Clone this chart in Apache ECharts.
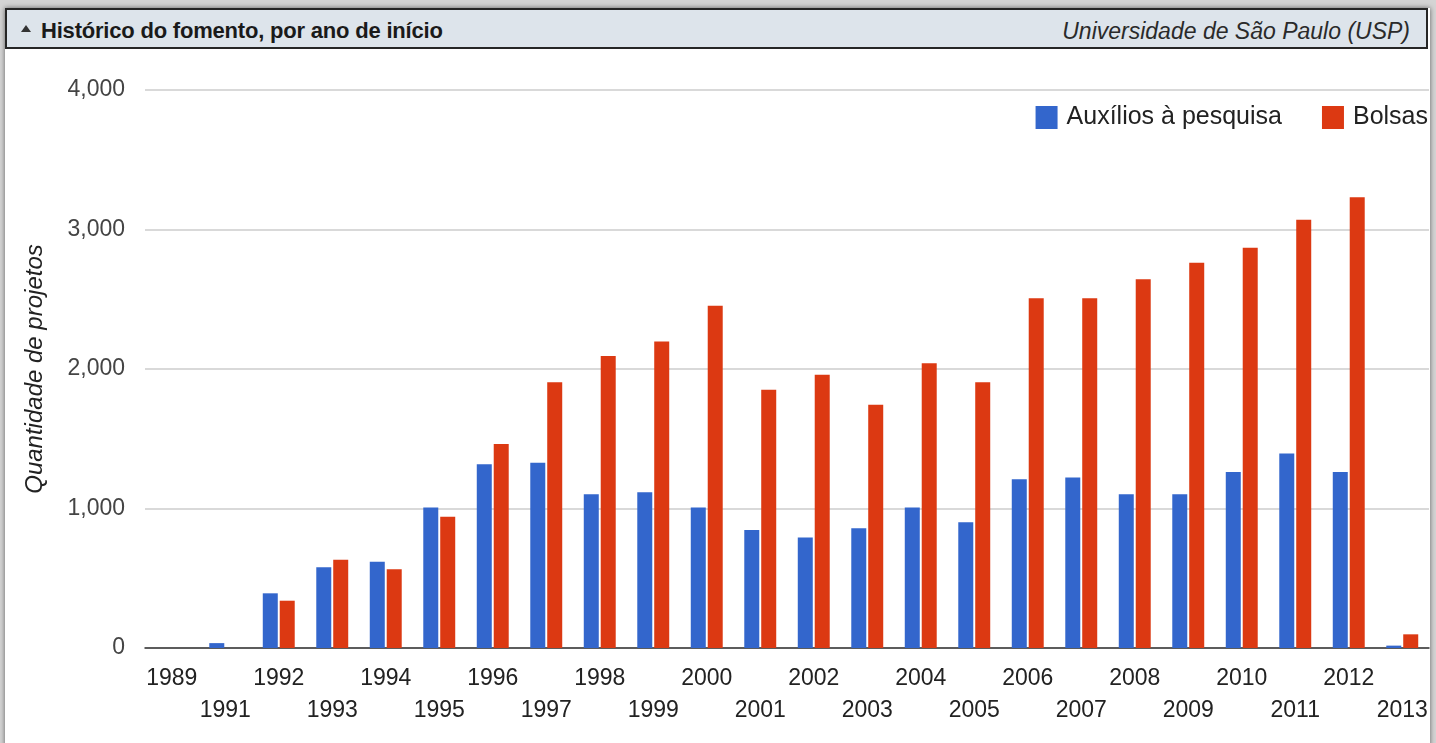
<!DOCTYPE html>
<html>
<head>
<meta charset="utf-8">
<script src="https://cdn.jsdelivr.net/npm/echarts@6/dist/echarts.min.js"></script>
<style>
  html, body { margin: 0; padding: 0; width: 1436px; height: 743px; overflow: hidden; background: #d4d4d4; font-family: "Liberation Sans", Arial, sans-serif; }
  #panel { position: absolute; left: 5px; top: 8px; width: 1425px; height: 740px; background: #fff; box-shadow: 0 0 5px rgba(0,0,0,0.55); }
  #header { position: absolute; left: 5px; top: 8px; width: 1419px; height: 37px; background: #dde4eb; border: 2px solid #262626; }
  #title { position: absolute; left: 34px; top: 8px; font-size: 22px; font-weight: bold; color: #1a1a1a; white-space: nowrap; letter-spacing: -0.2px; }
  #tri { position: absolute; left: 14px; top: 15px; width: 0; height: 0; border-left: 5px solid transparent; border-right: 5px solid transparent; border-bottom: 7px solid #333; }
  #inst { position: absolute; right: 16px; top: 8px; font-size: 23px; font-style: italic; color: #2a2a2a; white-space: nowrap; }
  #chart { position: absolute; left: 0; top: 0; width: 1436px; height: 743px; }
</style>
</head>
<body>
<div id="panel"></div>
<div id="chart"></div>
<div id="header"><div id="tri"></div><div id="title">Histórico do fomento, por ano de início</div><div id="inst">Universidade de São Paulo (USP)</div></div>
<script>
const years = ['1989','1991','1992','1993','1994','1995','1996','1997','1998','1999','2000','2001','2002','2003','2004','2005','2006','2007','2008','2009','2010','2011','2012','2013'];
const auxilios = [0, 35, 392, 578, 619, 1008, 1317, 1328, 1102, 1116, 1008, 846, 793, 858, 1008, 901, 1209, 1223, 1102, 1102, 1262, 1395, 1262, 17];
const bolsas = [0, 0, 339, 633, 564, 941, 1462, 1905, 2093, 2198, 2454, 1852, 1959, 1744, 2041, 1905, 2507, 2507, 2643, 2762, 2870, 3070, 3231, 98];
const seriesNames = ['Auxílios à pesquisa', 'Bolsas'];
const yTicks = [0, 1000, 2000, 3000, 4000];

const chart = echarts.init(document.getElementById('chart'), null, { renderer: 'canvas' });
const font = '"Liberation Sans", Arial, sans-serif';
chart.setOption({
  animation: false,
  backgroundColor: 'transparent',
  textStyle: { fontFamily: font },
  legend: {
    data: seriesNames,
    top: 105,
    right: 8,
    padding: 0,
    icon: 'rect',
    itemWidth: 22,
    itemHeight: 23,
    itemGap: 40,
    textStyle: { fontSize: 25, color: '#222', fontFamily: font, padding: [0, 0, 0, 4] }
  },
  grid: { left: 145, right: 7, top: 90, bottom: 95, containLabel: false },
  xAxis: {
    type: 'category',
    data: years,
    axisTick: { show: false },
    axisLine: { lineStyle: { color: '#333', width: 1.5 } },
    axisLabel: {
      interval: 0,
      fontSize: 23,
      color: '#222',
      lineHeight: 32,
      margin: 15,
      fontFamily: font,
      formatter: (v, i) => (i % 2 ? '\n' + v : v)
    }
  },
  yAxis: {
    type: 'value',
    min: yTicks[0],
    max: yTicks[yTicks.length - 1],
    interval: 1000,
    name: 'Quantidade de projetos',
    nameLocation: 'middle',
    nameRotate: 90,
    nameGap: 98,
    nameTextStyle: { fontSize: 24, fontStyle: 'italic', color: '#222', fontFamily: font },
    axisLine: { show: false },
    axisTick: { show: false },
    splitLine: { lineStyle: { color: '#cccccc', width: 1.5 } },
    axisLabel: {
      fontSize: 23,
      color: '#444',
      margin: 20,
      fontFamily: font,
      formatter: v => v.toLocaleString('en-US')
    }
  },
  series: [
    { name: seriesNames[0], type: 'bar', data: auxilios, barWidth: 15, barGap: '13%', itemStyle: { color: '#3366cc' } },
    { name: seriesNames[1], type: 'bar', data: bolsas, barWidth: 15, barGap: '13%', itemStyle: { color: '#dc3912' } }
  ]
});
</script>
</body>
</html>
